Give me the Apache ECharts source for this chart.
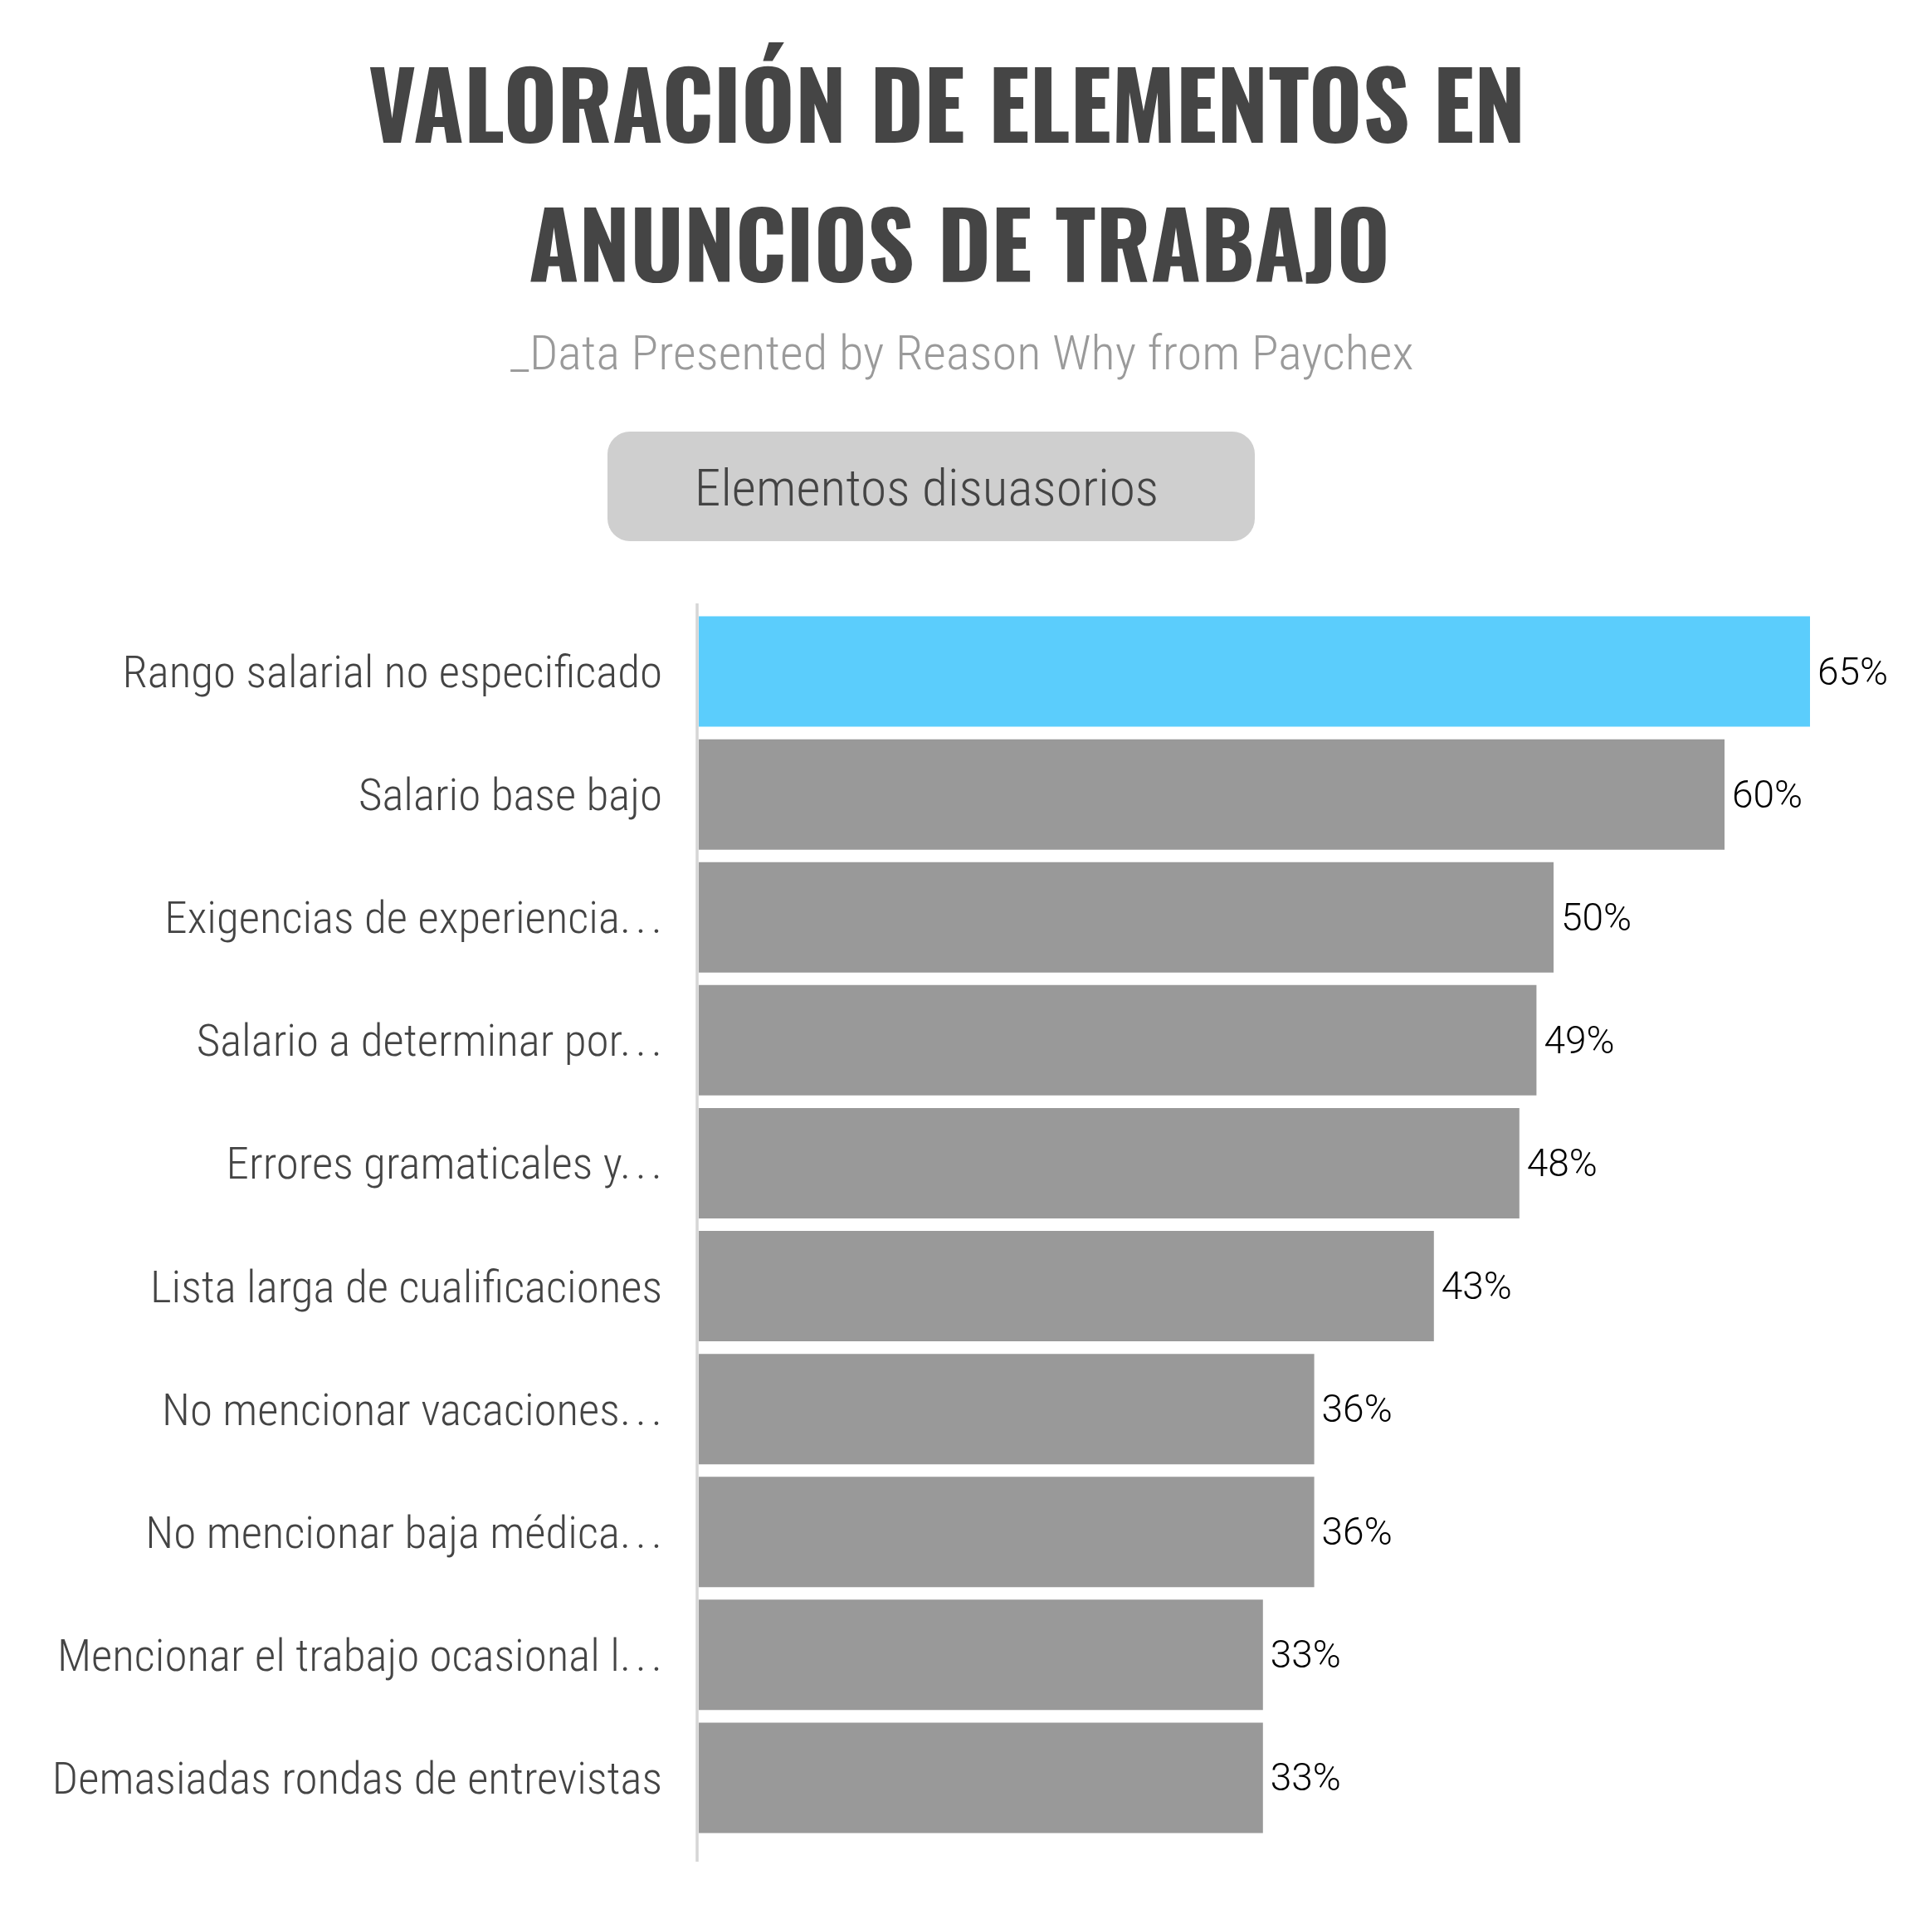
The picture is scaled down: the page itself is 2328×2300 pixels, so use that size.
<!DOCTYPE html>
<html lang="es">
<head>
    <meta charset="UTF-8">
    <title>Valoración de elementos en anuncios de trabajo</title>
    <style>
        html, body { margin: 0; padding: 0; background: #fff; }
        #chart { width: 2328px; height: 2300px; }
    </style>
</head>
<body>
<div id="chart"></div>

<script src="https://cdn.jsdelivr.net/npm/echarts@6/dist/echarts.min.js"></script>
<script>
    // datos
    const categories = [
        'Rango salarial no especificado',
        'Salario base bajo',
        'Exigencias de experiencia…',
        'Salario a determinar por…',
        'Errores gramaticales y…',
        'Lista larga de cualificaciones',
        'No mencionar vacaciones…',
        'No mencionar baja médica…',
        'Mencionar el trabajo ocasional l…',
        'Demasiadas rondas de entrevistas'
    ];
    const values = [65, 60, 50, 49, 48, 43, 36, 36, 33, 33];
    const highlightIndex = 0;

    const titleLines = ['VALORACIÓN DE ELEMENTOS EN', 'ANUNCIOS DE TRABAJO'];
    const subtitle = '_Data Presented by Reason Why from Paychex';
    const buttonText = 'Elementos disuasorios';

    const BLUE = '#5bcdfc';
    const GRAY = '#999999';
    const DARK = '#444444';

    const titleFont = "Oswald, 'Liberation Sans Narrow', 'DejaVu Sans Condensed', 'Roboto Condensed', Roboto, sans-serif";
    const lightFont = "'Roboto Condensed', Roboto, 'Liberation Sans Narrow', sans-serif";

    // the original spaces its ellipsis dots out more than the local font does
    const spacedEllipsis = s => s.replace('…', '.\u200a.\u200a.');

    // size each text by cap height, then squeeze it to the wanted width
    const measureCtx = document.createElement('canvas').getContext('2d');
    measureCtx.textBaseline = 'middle';
    function fitText(text, family, weight, capHeight, width) {
        measureCtx.font = `${weight} 100px ${family}`;
        const h0 = measureCtx.measureText('H');
        const size = 100 * capHeight / (h0.actualBoundingBoxAscent + h0.actualBoundingBoxDescent);
        measureCtx.font = `${weight} ${size}px ${family}`;
        const h = measureCtx.measureText('H');
        const m = measureCtx.measureText(text);
        const ink = m.actualBoundingBoxLeft + m.actualBoundingBoxRight;
        return {
            size: size,
            scaleX: width / ink,
            shift: (h.actualBoundingBoxAscent - h.actualBoundingBoxDescent) / 2
        };
    }

    function fittedText(text, family, weight, color, cx, capCenterY, capHeight, width) {
        const f = fitText(text, family, weight, capHeight, width);
        return {
            type: 'text',
            x: cx,
            y: capCenterY + f.shift,
            scaleX: f.scaleX,
            silent: true,
            style: {
                text: text,
                fontFamily: family,
                fontWeight: weight,
                fontSize: f.size,
                fill: color,
                align: 'center',
                verticalAlign: 'middle'
            }
        };
    }

    const catFit = fitText(categories[0], lightFont, 300, 38, 644);

    const chart = echarts.init(document.getElementById('chart'));

    const option = {
        backgroundColor: '#ffffff',
        animation: false,
        grid: { left: 842, right: 147, top: 735, bottom: 84 },
        xAxis: { type: 'value', min: 0, max: 65, show: false },
        yAxis: { type: 'category', data: categories, inverse: true, show: false },
        graphic: [
            fittedText(titleLines[0], titleFont, 'bold', '#454545', 1141, 126.5, 92, 1387),
            fittedText(titleLines[1], titleFont, 'bold', '#454545', 1156, 294.5, 91, 1031),
            fittedText(subtitle, lightFont, 300, '#9a9a9a', 1159, 424.5, 41, 1088),
            {
                type: 'rect',
                silent: true,
                shape: { x: 732, y: 520, width: 780, height: 132, r: 27 },
                style: { fill: '#cfcfcf' }
            },
            fittedText(buttonText, lightFont, 300, DARK, 1116.5, 586.5, 43, 551),
            {
                type: 'line',
                silent: true,
                shape: { x1: 840, y1: 727, x2: 840, y2: 2243 },
                style: { stroke: '#d6d6d6', lineWidth: 3.5 }
            }
        ],
        series: [
            {
                type: 'bar',
                barWidth: 133,
                data: values.map((v, i) => ({
                    value: v,
                    itemStyle: { color: i === highlightIndex ? BLUE : GRAY }
                })),
                label: {
                    show: true,
                    position: 'right',
                    distance: 9,
                    offset: [0, 4],
                    formatter: '{c}%',
                    fontFamily: 'Roboto, sans-serif',
                    fontWeight: 300,
                    fontSize: 46,
                    color: '#000000'
                },
                silent: true
            },
            {
                // category names, drawn next to the axis so they can be condensed
                type: 'custom',
                clip: false,
                silent: true,
                data: categories.map(c => [0, c]),
                encode: { x: 0, y: 1 },
                renderItem: function (params, api) {
                    const pt = api.coord([0, api.value(1)]);
                    return {
                        type: 'text',
                        x: pt[0] - 44,
                        y: pt[1] + catFit.shift,
                        scaleX: catFit.scaleX,
                        style: {
                            text: spacedEllipsis(categories[params.dataIndex]),
                            fontFamily: lightFont,
                            fontWeight: 300,
                            fontSize: catFit.size,
                            fill: DARK,
                            align: 'right',
                            verticalAlign: 'middle'
                        }
                    };
                }
            }
        ]
    };

    chart.setOption(option);
</script>
</body>
</html>
